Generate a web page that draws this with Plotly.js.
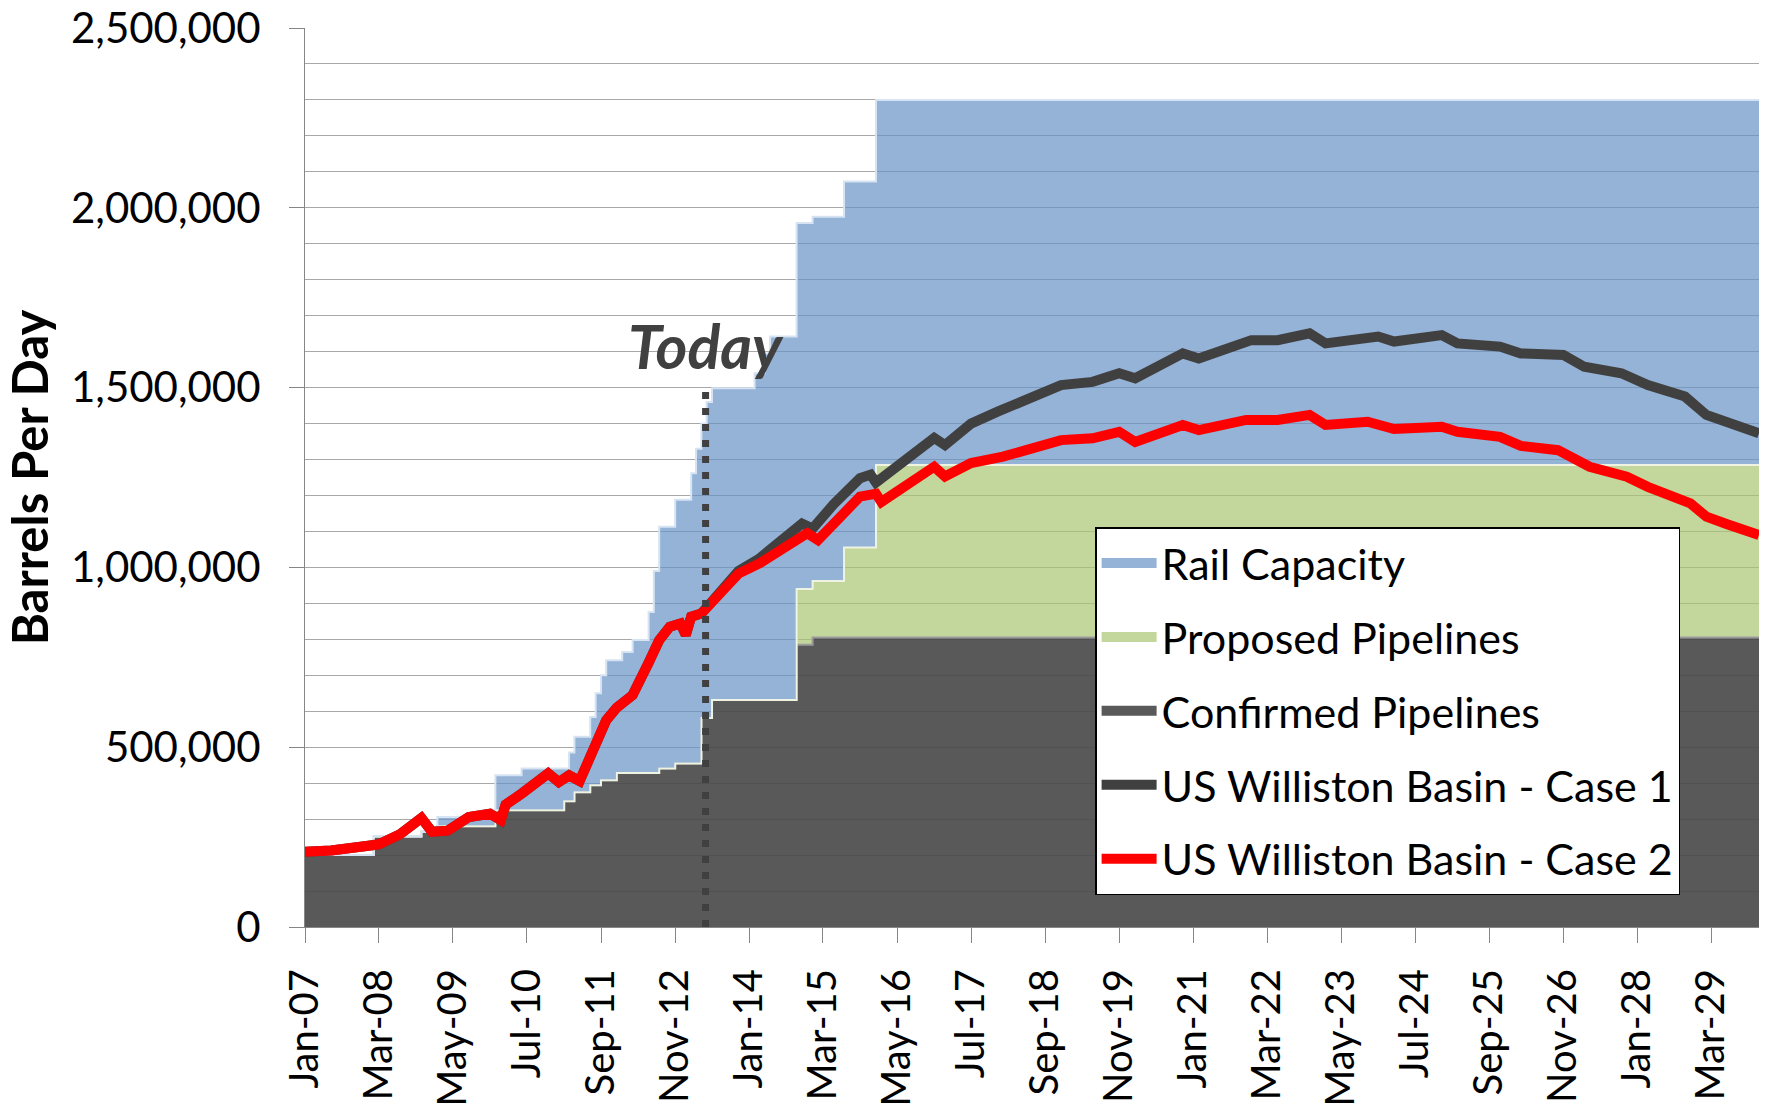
<!DOCTYPE html>
<html>
<head>
<meta charset="utf-8">
<script src="https://cdn.plot.ly/plotly-3.0.1.min.js"></script>
<style>
html,body{margin:0;padding:0;background:#ffffff;}
#chart{width:1767px;height:1110px;}
</style>
</head>
<body>
<div id="chart"></div>
<script>
// ---- Capacity step data (value holds from each date until the next) ----
const stepDates = ['2007-01','2008-02','2008-11','2009-02','2010-01','2010-06','2011-02','2011-03','2011-04','2011-07','2011-08','2011-09','2011-10','2011-12','2012-01','2012-03','2012-06','2012-07','2012-08','2012-11','2013-02','2013-03','2013-04','2013-05','2013-06','2014-02','2014-04','2014-05','2014-10','2015-01','2015-07','2016-01','2029-12'];
const confirmedPipelines = [200000,252000,265000,280000,325000,325000,350000,350000,375000,394000,394000,408000,408000,428000,428000,428000,428000,428000,441000,455000,455000,455000,581000,581000,631000,631000,631000,631000,785000,805000,805000,805000,805000];
const proposedPipelines = [0,0,0,0,0,0,0,0,0,0,0,0,0,0,0,0,0,0,0,0,0,0,0,0,0,0,0,0,155000,157000,250000,480000,480000];
const railCapacity = [0,0,0,26000,97000,116000,91000,135000,154000,190000,256000,292000,334000,314000,337000,370000,448000,562000,672000,733000,807000,875000,819000,879000,867000,909000,964000,1011000,1018000,1013000,1018000,1015000,1015000];

// ---- Production forecasts ----
const case1Dates = ['2007-01','2007-06','2008-01','2008-03','2008-07','2008-09','2008-11','2009-01','2009-04','2009-08','2009-12','2010-02','2010-03','2010-06','2010-09','2010-11','2011-01','2011-03','2011-05','2011-07','2011-10','2011-12','2012-03','2012-06','2012-08','2012-10','2012-12','2013-01','2013-02','2013-04','2013-07','2013-11','2014-03','2014-06','2014-09','2014-11','2015-01','2015-05','2015-10','2015-12','2016-01','2016-12','2017-02','2017-07','2017-12','2018-12','2019-06','2019-11','2020-02','2020-11','2021-02','2021-12','2022-05','2022-11','2023-02','2023-12','2024-03','2024-12','2025-03','2025-11','2026-03','2026-11','2027-03','2027-10','2028-03','2028-10','2029-02','2029-06','2029-12'];
const case1 = [209000,213000,226000,230000,258000,278000,303000,265000,268000,306000,315000,297000,340000,371000,408000,427000,403000,422000,406000,473000,575000,610000,645000,735000,798000,835000,844000,812000,863000,872000,918000,990000,1025000,1060000,1100000,1122000,1108000,1175000,1248000,1258000,1236000,1360000,1340000,1400000,1433000,1507000,1516000,1540000,1526000,1595000,1581000,1632000,1632000,1651000,1623000,1642000,1628000,1646000,1623000,1614000,1595000,1591000,1558000,1540000,1507000,1475000,1424000,1401000,1373000];

const case2Dates = ['2007-01','2007-06','2008-01','2008-03','2008-07','2008-09','2008-11','2009-01','2009-04','2009-08','2009-12','2010-02','2010-03','2010-06','2010-09','2010-11','2011-01','2011-03','2011-05','2011-07','2011-10','2011-12','2012-03','2012-06','2012-08','2012-10','2012-12','2013-01','2013-02','2013-04','2013-07','2013-11','2014-03','2014-06','2014-09','2014-12','2015-02','2015-05','2015-10','2016-01','2016-02','2016-12','2017-02','2017-07','2018-01','2018-12','2019-06','2019-11','2020-02','2020-11','2021-02','2021-11','2022-05','2022-11','2023-02','2023-10','2024-03','2024-12','2025-03','2025-11','2026-03','2026-10','2027-04','2027-11','2028-03','2028-11','2029-02','2029-06','2029-12'];
const case2 = [209000,213000,226000,230000,258000,278000,303000,265000,268000,306000,315000,297000,340000,371000,408000,427000,403000,422000,406000,473000,575000,610000,645000,735000,798000,835000,844000,812000,863000,872000,918000,983000,1011000,1040000,1067000,1095000,1076000,1122000,1197000,1205000,1182000,1280000,1253000,1290000,1308000,1354000,1359000,1377000,1349000,1396000,1382000,1410000,1410000,1424000,1396000,1405000,1385000,1391000,1377000,1363000,1338000,1326000,1280000,1252000,1224000,1178000,1141000,1120000,1090000];

// ---- Axis / labels ----
const seriesNames = ['Confirmed Pipelines','Proposed Pipelines','Rail Capacity','US Williston Basin - Case 1','US Williston Basin - Case 2'];
const xStart = '2007-01-01';
const xEnd = '2029-12-01';
const yMax = 2500000;
const todayDate = '2013-04-25';
const todayTop = 1500000;
const todayLabel = 'Today';
const yTitle = 'Barrels Per Day';

const FONT = 'Lato, "Open Sans", "DejaVu Sans", sans-serif';
const AREA_COLORS = ['#595959', '#c3d69b', '#95b3d7'];

const traces = [
  {
    x: stepDates, y: confirmedPipelines, name: seriesNames[0],
    type: 'scatter', mode: 'lines', stackgroup: 'cap',
    line: {shape: 'hv', color: '#9a9a9a', width: 2},
    fillcolor: 'rgba(71,71,71,0.9)',
    showlegend: false, hoverinfo: 'skip'
  },
  {
    x: stepDates, y: proposedPipelines, name: seriesNames[1],
    type: 'scatter', mode: 'lines', stackgroup: 'cap',
    line: {shape: 'hv', color: '#eef3e2', width: 2},
    fillcolor: 'rgba(169,196,112,0.7)',
    showlegend: false, hoverinfo: 'skip'
  },
  {
    x: stepDates, y: railCapacity, name: seriesNames[2],
    type: 'scatter', mode: 'lines', stackgroup: 'cap',
    line: {shape: 'hv', color: '#d5e3f3', width: 2},
    fillcolor: 'rgba(104,146,198,0.7)',
    showlegend: false, hoverinfo: 'skip'
  },
  {
    x: case1Dates, y: case1, name: seriesNames[3],
    type: 'scatter', mode: 'lines',
    line: {color: '#404040', width: 10},
    legendgroup: 'g4', legendrank: 4, hoverinfo: 'skip'
  },
  {
    x: case2Dates, y: case2, name: seriesNames[4],
    type: 'scatter', mode: 'lines',
    line: {color: '#ff0000', width: 10},
    legendgroup: 'g5', legendrank: 5, hoverinfo: 'skip'
  },
  // legend swatches for the stacked areas (no data points)
  {x: [null], y: [null], name: seriesNames[2], type: 'scatter', mode: 'lines',
   line: {color: AREA_COLORS[2], width: 27}, legendgroup: 'g1', legendrank: 1, hoverinfo: 'skip'},
  {x: [null], y: [null], name: seriesNames[1], type: 'scatter', mode: 'lines',
   line: {color: AREA_COLORS[1], width: 27}, legendgroup: 'g2', legendrank: 2, hoverinfo: 'skip'},
  {x: [null], y: [null], name: seriesNames[0], type: 'scatter', mode: 'lines',
   line: {color: AREA_COLORS[0], width: 27}, legendgroup: 'g3', legendrank: 3, hoverinfo: 'skip'}
];

const layout = {
  width: 1767, height: 1110,
  margin: {l: 305, r: 8, t: 28, b: 183, pad: 0},
  paper_bgcolor: '#ffffff', plot_bgcolor: '#ffffff',
  font: {family: FONT, size: 40, color: '#000000'},
  showlegend: true,
  legend: {
    x: 0.5434, y: 0.4448, xanchor: 'left', yanchor: 'top',
    bgcolor: '#ffffff', bordercolor: '#000000', borderwidth: 1.5,
    font: {family: FONT, size: 43, color: '#000000'},
    traceorder: 'grouped', tracegroupgap: 15, itemwidth: 55
  },
  xaxis: {
    type: 'date', range: [xStart, xEnd],
    tick0: xStart, dtick: 'M14', tickformat: '%b-%y', tickangle: -90,
    ticks: 'outside', ticklen: 15, tickcolor: '#868686', tickwidth: 1,
    showline: true, linecolor: '#868686', linewidth: 1,
    showgrid: false, zeroline: false,
    tickfont: {family: FONT, size: 40, color: '#000000'},
    ticklabelstandoff: 10, automargin: false, fixedrange: true
  },
  yaxis: {
    range: [0, yMax], dtick: 500000, tickformat: ',d',
    ticks: 'outside', ticklen: 15, tickcolor: '#868686', tickwidth: 1,
    showline: true, linecolor: '#868686', linewidth: 1,
    showgrid: true, gridcolor: '#a8a8a8', gridwidth: 1,
    minor: {dtick: 100000, showgrid: true, gridcolor: '#a8a8a8', gridwidth: 1, ticks: ''},
    zeroline: false,
    tickfont: {family: FONT, size: 42, color: '#000000'},
    ticklabelstandoff: 20,
    title: {text: yTitle, font: {family: FONT, size: 49, color: '#000000', weight: 'bold'}, standoff: 12},
    automargin: false, fixedrange: true
  },
  shapes: [{
    type: 'line', xref: 'x', yref: 'y',
    x0: todayDate, x1: todayDate, y0: 0, y1: todayTop,
    line: {color: '#404040', width: 7, dash: '7px,9px'}
  }],
  annotations: [{
    x: todayDate, y: todayTop, xref: 'x', yref: 'y',
    text: todayLabel, showarrow: false,
    xanchor: 'center', yanchor: 'bottom', yshift: 4,
    font: {family: FONT, size: 61, color: '#404040', weight: 'bold', style: 'italic'}
  }]
};

Plotly.newPlot('chart', traces, layout, {displayModeBar: false, responsive: false});
</script>
</body>
</html>
